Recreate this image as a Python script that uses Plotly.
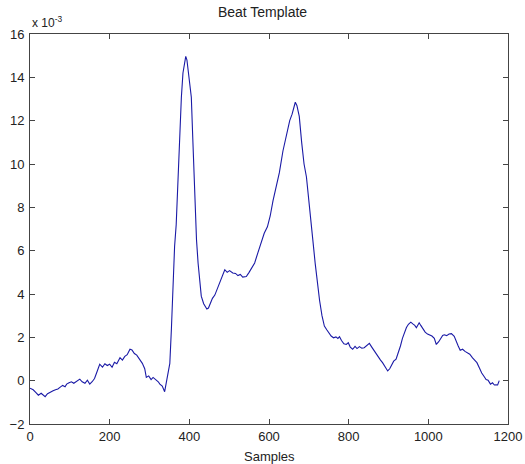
import plotly.graph_objects as go

# Sample index and amplitude (units of 1e-3)
samples = [0, 8, 15, 21, 28, 33, 38, 44, 50, 58, 64, 70, 76, 82, 88, 92, 98, 104, 110, 118, 125, 131,
           138, 144, 150, 156, 162, 168, 175, 182, 188, 194, 200, 206, 212, 218, 226, 232, 238, 244,
           251, 256, 262, 268, 276, 282, 288, 292, 298, 304, 309, 316, 322, 326, 332, 338, 344, 351,
           355, 359, 363, 367, 372, 376, 380, 384, 388, 391, 394, 398, 402, 405, 409, 413, 418, 422,
           426, 430, 436, 440, 444, 448, 452, 458, 464, 470, 476, 482, 489, 495, 501, 509, 516, 522,
           528, 534, 543, 550, 557, 564, 572, 580, 588, 596, 603, 610, 618, 626, 635, 642, 648, 652,
           658, 662, 666, 670, 676, 682, 688, 694, 700, 705, 710, 716, 722, 727, 733, 739, 745, 750,
           756, 762, 768, 773, 777, 782, 788, 794, 799, 804, 810, 816, 821, 827, 833, 839, 845, 852,
           858, 863, 869, 875, 880, 885, 890, 894, 898, 903, 908, 913, 919, 925, 930, 935, 940, 945,
           950, 956, 961, 966, 970, 973, 977, 981, 986, 992, 998, 1003, 1009, 1015, 1020, 1026, 1031,
           1036, 1040, 1046, 1052, 1058, 1065, 1070, 1075, 1080, 1086, 1092, 1098, 1104, 1111, 1117,
           1122, 1128, 1134, 1140, 1145, 1150, 1156, 1161, 1166, 1170, 1174, 1178, 1182]
amplitude = [-0.35, -0.42, -0.55, -0.67, -0.58, -0.66, -0.74, -0.60, -0.56, -0.47, -0.42, -0.38,
             -0.30, -0.22, -0.28, -0.16, -0.10, -0.05, -0.12, -0.02, 0.07, -0.05, -0.12, 0.02, -0.16,
             -0.05, 0.10, 0.40, 0.76, 0.62, 0.78, 0.70, 0.76, 0.62, 0.85, 0.78, 1.06, 0.95, 1.12,
             1.20, 1.45, 1.42, 1.25, 1.18, 0.99, 0.80, 0.55, 0.15, 0.22, 0.05, 0.15, 0.05, -0.05,
             -0.16, -0.25, -0.51, 0.05, 0.80, 2.40, 4.66, 6.20, 7.20, 9.50, 11.50, 13.08, 14.20, 14.80,
             14.97, 14.80, 14.20, 13.70, 13.08, 11.00, 8.48, 6.50, 5.42, 4.60, 3.90, 3.55, 3.40, 3.31,
             3.35, 3.55, 3.80, 3.95, 4.25, 4.50, 4.80, 5.12, 5.00, 5.08, 4.97, 4.95, 4.85, 4.90, 4.78,
             4.81, 5.00, 5.20, 5.43, 5.90, 6.30, 6.80, 7.10, 7.60, 8.30, 8.90, 9.60, 10.60, 11.20,
             11.60, 12.00, 12.30, 12.60, 12.85, 12.70, 12.20, 11.00, 10.00, 9.40, 8.20, 7.20, 6.50,
             5.40, 4.40, 3.70, 3.00, 2.52, 2.35, 2.20, 2.06, 1.98, 2.02, 1.95, 2.03, 1.85, 1.70, 1.67,
             1.75, 1.55, 1.45, 1.58, 1.48, 1.57, 1.50, 1.52, 1.60, 1.72, 1.55, 1.40, 1.22, 1.05, 0.95,
             0.83, 0.70, 0.60, 0.45, 0.55, 0.75, 0.90, 0.99, 1.30, 1.60, 1.95, 2.21, 2.45, 2.60, 2.70,
             2.62, 2.55, 2.44, 2.52, 2.67, 2.55, 2.40, 2.24, 2.15, 2.10, 2.06, 1.95, 1.67, 1.80, 1.95,
             2.09, 2.12, 2.08, 2.15, 2.17, 2.05, 1.80, 1.60, 1.40, 1.45, 1.35, 1.28, 1.22, 1.05, 0.95,
             0.83, 0.60, 0.35, 0.19, 0.05, 0.02, -0.16, -0.10, -0.20, -0.19, -0.20, 0.00]

x_ticks = [0, 200, 400, 600, 800, 1000, 1200]
y_ticks = [-2, 0, 2, 4, 6, 8, 10, 12, 14, 16]

FONT = "Liberation Sans, Arial, sans-serif"

fig = go.Figure()
fig.add_trace(go.Scatter(
    x=samples, y=amplitude, mode="lines",
    line=dict(color="#1a1aa6", width=1.1),
    showlegend=False, hoverinfo="skip",
))

axis_common = dict(
    showline=True, linecolor="#444444", linewidth=1, mirror="ticks",
    ticks="inside", ticklen=5, tickcolor="#444444", tickwidth=1,
    showgrid=False, zeroline=False, automargin=False,
    tickfont=dict(family=FONT, size=13, color="#222222"),
)

fig.update_layout(
    width=525, height=464,
    margin=dict(l=30, r=17, t=34, b=40),
    paper_bgcolor="white", plot_bgcolor="white",
    title=dict(text="Beat Template", x=0.5, xanchor="center", y=0.985, yanchor="top",
               font=dict(family=FONT, size=14, color="#222222")),
    xaxis=dict(range=[0, 1200], tickvals=x_ticks, **axis_common),
    yaxis=dict(range=[-2, 16], tickvals=y_ticks, ticklabelstandoff=2, **axis_common),
    annotations=[
        dict(text="x 10<sup>-3</sup>", xref="paper", yref="paper", x=0.0, y=1.0,
             xanchor="left", yanchor="bottom", showarrow=False, yshift=2,
             font=dict(family=FONT, size=12, color="#222222")),
        dict(text="Samples", xref="paper", yref="paper", x=0.5, y=0.0,
             xanchor="center", yanchor="middle", showarrow=False, yshift=-32,
             font=dict(family=FONT, size=13, color="#222222")),
    ],
)

fig.write_html("out.html", config={"displayModeBar": False},
               post_script="document.body.style.margin='0';document.body.style.overflow='hidden';")
